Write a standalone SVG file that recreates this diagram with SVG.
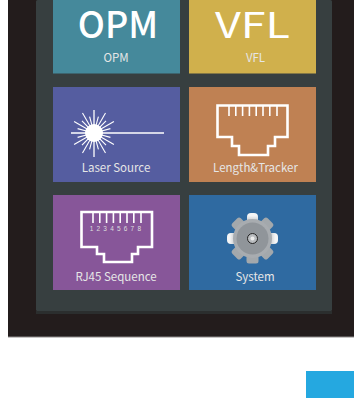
<svg xmlns="http://www.w3.org/2000/svg" width="354" height="398" viewBox="0 0 354 398">
<style>
.big{font-family:"Noto Sans CJK SC","Noto Sans",sans-serif;fill:#fff;text-anchor:middle;font-size:36px}
.lbl{font-family:"Noto Sans CJK SC","Noto Sans",sans-serif;fill:#e6e6e6;text-anchor:middle;font-size:11.500px}
.ico{fill:none;stroke:#fff;stroke-width:2.600}
.pin{stroke:#fff;stroke-width:1.600}
.ray{stroke:#fff;stroke-width:1.100}
</style>
<defs>
<linearGradient id="lt" x1="0" y1="1" x2="0" y2="0"><stop offset="0.2" stop-color="#a8acb0"/><stop offset="0.8" stop-color="#f4f5f6"/></linearGradient>
<rect id="tooth" x="-5.500" y="-25.500" width="11" height="14" rx="4" fill="url(#lt)"/>
<rect id="toothd" x="-6" y="-25" width="12" height="14" rx="2.500" fill="#a3a8ac"/>
<line id="rl" class="ray" x1="0" y1="-6" x2="0" y2="-23"/>
<line id="rs" class="ray" x1="0" y1="-6" x2="0" y2="-17"/>
</defs>
<rect width="354" height="398" fill="#fff"/>
<rect x="8" y="0" width="346" height="337" fill="#231c1c"/>
<rect x="8" y="336.500" width="346" height="1" fill="#8d8a8a"/>
<rect x="36" y="0" width="296" height="311" rx="1.500" fill="#373f40"/>
<rect x="36" y="311" width="296" height="3" fill="#2b2e2e"/>

<g id="opm">
<rect x="53" y="-10" width="127" height="83.500" fill="#45899b"/>
<text class="big" x="118" y="38" font-weight="500">OPM</text>
<text class="lbl" x="116" y="62">OPM</text>
</g>
<g id="vfl">
<rect x="189" y="-10" width="127" height="83.500" fill="#d0b04c"/>
<text class="big" x="252.500" y="38" font-weight="400" textLength="75" lengthAdjust="spacingAndGlyphs">VFL</text>
<text class="lbl" x="255.500" y="62">VFL</text>
</g>
<g id="laser">
<rect x="53" y="87" width="127" height="95" fill="#555da0"/>
<line x1="71" y1="133" x2="164" y2="133" stroke="#fff" stroke-width="1.300"/>
<line x1="94" y1="110" x2="94" y2="157" stroke="#fff" stroke-width="1.300"/>
<g transform="translate(94 133)">
<use href="#rs" transform="rotate(15)"/><use href="#rl" transform="rotate(30)"/><use href="#rs" transform="rotate(45)"/><use href="#rl" transform="rotate(60)"/><use href="#rs" transform="rotate(75)"/>
<use href="#rs" transform="rotate(105)"/><use href="#rl" transform="rotate(120)"/><use href="#rs" transform="rotate(135)"/><use href="#rl" transform="rotate(150)"/><use href="#rs" transform="rotate(165)"/>
<use href="#rs" transform="rotate(195)"/><use href="#rl" transform="rotate(210)"/><use href="#rs" transform="rotate(225)"/><use href="#rl" transform="rotate(240)"/><use href="#rs" transform="rotate(255)"/>
<use href="#rs" transform="rotate(285)"/><use href="#rl" transform="rotate(300)"/><use href="#rs" transform="rotate(315)"/><use href="#rl" transform="rotate(330)"/><use href="#rs" transform="rotate(345)"/>
<circle r="9" fill="#fff"/>
</g>
<text class="lbl" x="116" y="172">Laser Source</text>
</g>
<g id="length-tracker">
<rect x="189" y="87" width="127" height="95" fill="#bf8153"/>
<path class="ico" d="M217.500 105.500H287.500V137H275V146H268V155H239V146H232V137H217.500Z"/>
<path class="pin" d="M229 106V116M235.800 106V116M242.600 106V116M249.400 106V116M256.200 106V116M263 106V116M269.800 106V116M277 106V116"/>
<text class="lbl" x="255.500" y="172">Length&amp;Tracker</text>
</g>
<g id="rj45">
<rect x="53" y="195" width="127" height="95" fill="#875699"/>
<path class="ico" d="M81.500 212H152V247H138V254H132V262H104V254H97V247H81.500Z"/>
<path class="pin" d="M93 213V223M99.800 213V223M106.600 213V223M113.400 213V223M120.200 213V223M127 213V223M133.800 213V223M141 213V223"/>
<text x="117" y="231" text-anchor="middle" font-family="'Liberation Sans',sans-serif" font-size="6.500" fill="#ddd" letter-spacing="3.200">12345678</text>
<text class="lbl" x="116" y="281">RJ45 Sequence</text>
</g>
<g id="system">
<rect x="189" y="195" width="127" height="95" fill="#2f6aa1"/>
<g transform="translate(252.500 238.500)">
<use href="#tooth"/><use href="#toothd" transform="rotate(45)"/><use href="#tooth" transform="rotate(90)"/><use href="#toothd" transform="rotate(135)"/><use href="#toothd" transform="rotate(180)"/><use href="#toothd" transform="rotate(225)"/><use href="#tooth" transform="rotate(270)"/><use href="#toothd" transform="rotate(315)"/>
<circle r="19.500" fill="#a8acb0"/>
<circle r="16" fill="#90959a"/>
<circle r="5" fill="#b9bcbf" stroke="#222" stroke-width="1"/>
<circle r="2" fill="#eee"/>
</g>
<text class="lbl" x="255" y="281">System</text>
</g>
<g id="button"><rect x="306" y="371" width="48" height="27" fill="#25a8e0"/></g>
</svg>
